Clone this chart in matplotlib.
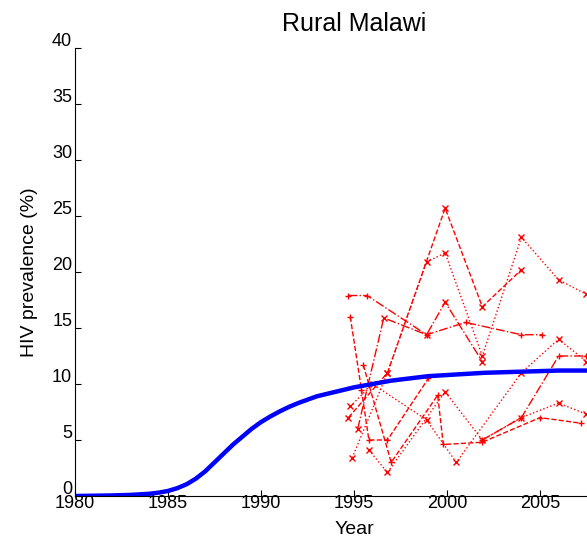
import matplotlib
matplotlib.use("Agg")
import matplotlib.pyplot as plt
import matplotlib.transforms as mtransforms

plt.rcParams["font.family"] = ["Liberation Sans", "DejaVu Sans"]

# model fit (blue)
model_years = [1980, 1982, 1983, 1984, 1984.5, 1985, 1985.5, 1986, 1986.5, 1987, 1987.5,
               1988, 1988.5, 1989, 1989.5, 1990, 1990.5, 1991, 1991.5, 1992, 1992.5,
               1993, 1993.5, 1994, 1995, 1996, 1997, 1998, 1999, 2000, 2002, 2004,
               2006, 2008, 2010]
model_prev = [0.0, 0.05, 0.1, 0.2, 0.3, 0.45, 0.7, 1.05, 1.55, 2.2, 3.0,
              3.8, 4.6, 5.3, 6.0, 6.6, 7.1, 7.55, 7.95, 8.3, 8.6,
              8.9, 9.1, 9.3, 9.7, 10.0, 10.3, 10.5, 10.7, 10.8, 11.0, 11.1,
              11.2, 11.2, 11.2]

# antenatal clinic site data (red)
site_years = [
    [1994.7, 1996.8, 1999.9, 2001.9, 2004.0],
    [1994.9, 1996.8, 1998.9, 1999.9, 2001.9, 2004.0, 2006.0, 2007.5],
    [1994.7, 1995.7, 1998.9, 2001.0, 2004.0, 2005.1],
    [1994.8, 1995.4, 1995.8, 1996.8, 1999.0],
    [1995.8, 1996.8, 1999.9, 2001.9, 2004.0, 2006.0, 2007.5],
    [1995.2, 1996.6, 1998.9, 1999.9, 2001.9],
    [1995.5, 1997.0, 1999.5, 1999.8, 2001.9, 2005.0, 2007.2],
    [1994.8, 1996.0, 1998.9, 2000.5, 2004.0, 2006.0, 2007.5],
    [2001.9, 2004.0, 2006.0, 2007.5],
]
site_prev = [
    [7.0, 11.0, 25.7, 16.9, 20.2],
    [3.4, 11.0, 20.9, 21.7, 12.5, 23.1, 19.3, 18.0],
    [17.9, 17.9, 14.4, 15.5, 14.4, 14.4],
    [16.0, 9.5, 5.0, 5.0, 10.5],
    [4.1, 2.1, 9.3, 5.0, 7.0, 8.3, 7.3],
    [6.0, 15.9, 14.4, 17.3, 12.0],
    [11.7, 3.0, 9.0, 4.6, 4.8, 7.0, 6.5],
    [8.0, 10.0, 6.8, 3.0, 11.0, 14.0, 12.0],
    [5.0, 7.0, 12.5, 12.5],
]
site_styles = ["--", ":", "-.", "--", ":", "-.", "--", ":", "-."]
site_markers = ["x", "x", "+", "+", "x", "x", "+", "x", "+"]

fig = plt.figure(figsize=(5.87, 5.40), dpi=100)
ax = fig.add_axes([75 / 587, 44 / 540, 558 / 587, 448 / 540])

for yrs, vals, ls, mk in zip(site_years, site_prev, site_styles, site_markers):
    ax.plot(yrs, vals, color="red", linestyle=ls, linewidth=1, marker=mk,
            markersize=5, markeredgewidth=1)
ax.plot(model_years, model_prev, color="blue", linewidth=3.2)

ax.set_xlim(1980, 2010)
ax.set_ylim(0, 40)
ax.set_xticks(range(1980, 2010, 5))
ax.set_yticks(range(0, 41, 5))
ax.spines["top"].set_visible(False)
ax.spines["right"].set_visible(False)
ax.tick_params(direction="in", length=4, labelsize=13, pad=2)
ax.tick_params(axis="x", pad=-1)

# low-res matlab export: y labels sit a bit high
shift = mtransforms.ScaledTranslation(0, 6 / 72, fig.dpi_scale_trans)
for lab in ax.get_yticklabels():
    lab.set_transform(lab.get_transform() + shift)

ax.set_title("Rural Malawi", fontsize=18, pad=12)
ax.set_xlabel("Year", fontsize=14, labelpad=7)
ax.set_ylabel("HIV prevalence (%)", fontsize=14, labelpad=10)

fig.savefig("out.png", dpi=100)
